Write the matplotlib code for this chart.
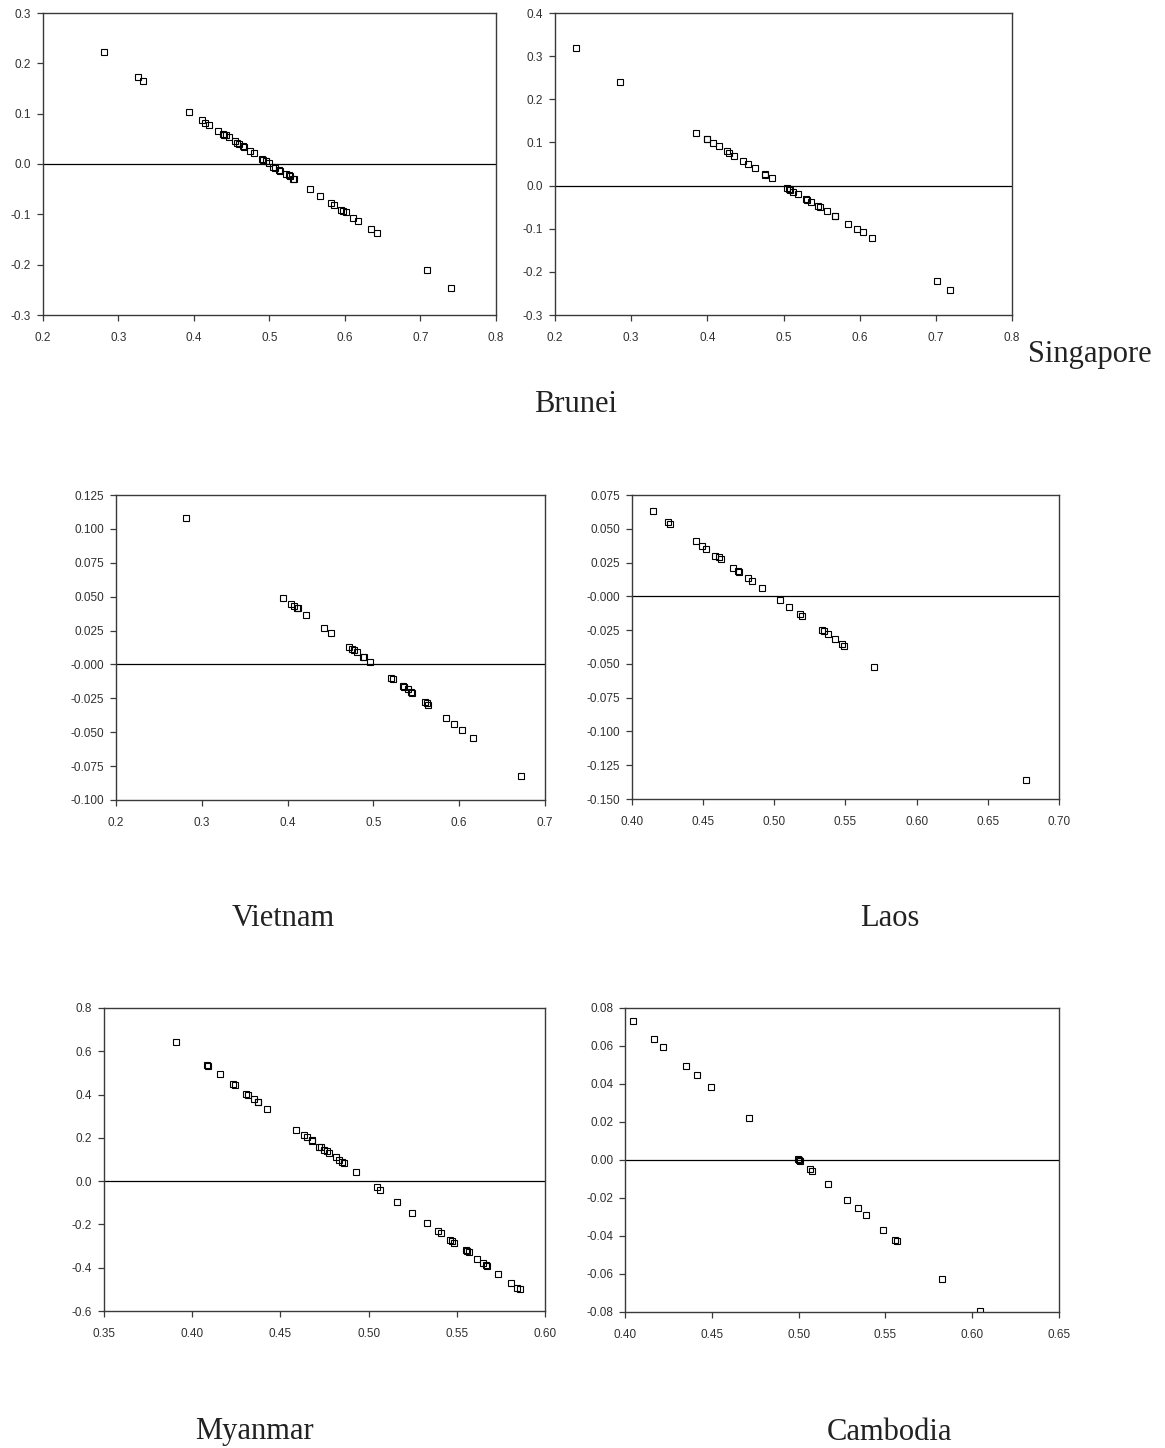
import numpy as np
import matplotlib
matplotlib.use('Agg')
import matplotlib.pyplot as plt

plt.rcParams['font.family'] = 'Liberation Sans'
plt.rcParams['axes.unicode_minus'] = False

#%% data
brunei_x = [0.281, 0.326, 0.333, 0.394, 0.410, 0.415, 0.420, 0.432, 0.438, 0.440, 0.442, 0.446,
            0.454, 0.457, 0.460, 0.465, 0.466, 0.474, 0.479, 0.490, 0.492, 0.495, 0.500, 0.505,
            0.507, 0.512, 0.514, 0.522, 0.526, 0.527, 0.531, 0.533, 0.553, 0.567, 0.582, 0.586,
            0.595, 0.598, 0.601, 0.611, 0.617, 0.634, 0.642, 0.709, 0.740]
brunei_y = [0.222, 0.173, 0.165, 0.103, 0.087, 0.081, 0.077, 0.065, 0.060, 0.058, 0.058, 0.054,
            0.045, 0.042, 0.039, 0.035, 0.034, 0.025, 0.021, 0.009, 0.007, 0.005, 0.001, -0.005,
            -0.007, -0.011, -0.013, -0.019, -0.022, -0.024, -0.029, -0.030, -0.050, -0.064, -0.077, -0.081,
            -0.091, -0.094, -0.096, -0.107, -0.113, -0.130, -0.137, -0.210, -0.246]

singapore_x = [0.228, 0.285, 0.385, 0.400, 0.400, 0.408, 0.415, 0.426, 0.429, 0.435, 0.447, 0.453,
               0.462, 0.476, 0.476, 0.485, 0.505, 0.507, 0.509, 0.513, 0.519, 0.529, 0.531, 0.536,
               0.545, 0.548, 0.557, 0.567, 0.567, 0.585, 0.597, 0.604, 0.616, 0.701, 0.718]
singapore_y = [0.319, 0.240, 0.123, 0.108, 0.107, 0.098, 0.091, 0.079, 0.076, 0.069, 0.057, 0.051,
               0.041, 0.026, 0.024, 0.017, -0.006, -0.008, -0.011, -0.014, -0.020, -0.030, -0.033, -0.037,
               -0.047, -0.050, -0.059, -0.070, -0.071, -0.089, -0.100, -0.107, -0.121, -0.222, -0.243]

vietnam_x = [0.2815, 0.395, 0.404, 0.408, 0.411, 0.412, 0.421, 0.442, 0.450, 0.472, 0.475, 0.477,
             0.481, 0.488, 0.489, 0.496, 0.521, 0.523, 0.534, 0.536, 0.540, 0.544, 0.545, 0.560,
             0.562, 0.564, 0.585, 0.594, 0.603, 0.616, 0.672]
vietnam_y = [0.1078, 0.049, 0.0443, 0.0428, 0.0416, 0.0413, 0.0365, 0.0266, 0.0232, 0.0126, 0.0116, 0.011,
             0.0089, 0.0058, 0.0052, 0.002, -0.0103, -0.0105, -0.0159, -0.0166, -0.0181, -0.0206, -0.0208, -0.028,
             -0.0287, -0.030, -0.0398, -0.044, -0.0484, -0.0545, -0.0825]

laos_x = [0.4148, 0.4255, 0.4270, 0.4448, 0.4490, 0.4518, 0.4586, 0.4614, 0.4626, 0.4708, 0.4748,
          0.4755, 0.4816, 0.4841, 0.4914, 0.5038, 0.5104, 0.5179, 0.5193, 0.5338, 0.5352, 0.5380,
          0.5425, 0.5477, 0.5488, 0.5699, 0.6766]
laos_y = [0.0629, 0.0548, 0.0538, 0.0406, 0.0372, 0.0352, 0.0302, 0.0288, 0.0276, 0.0211, 0.0184,
          0.0179, 0.0132, 0.0115, 0.0063, -0.0030, -0.0077, -0.0134, -0.0144, -0.0250, -0.0260, -0.0282,
          -0.0315, -0.0354, -0.0364, -0.0522, -0.1359]

myanmar_x = [0.3908, 0.4086, 0.4088, 0.4158, 0.4231, 0.4241, 0.4307, 0.4318, 0.4350, 0.4371, 0.4373,
             0.4426, 0.4590, 0.4634, 0.4653, 0.4677, 0.4679, 0.4719, 0.4732, 0.4747, 0.4764, 0.4777,
             0.4813, 0.4830, 0.4847, 0.4859, 0.4930, 0.5049, 0.5065, 0.5163, 0.5248, 0.5331, 0.5393,
             0.5408, 0.5461, 0.5475, 0.5486, 0.5550, 0.5558, 0.5569, 0.5616, 0.5647, 0.5665, 0.5669,
             0.5735, 0.5807, 0.5843, 0.5856]
myanmar_y = [0.642, 0.535, 0.534, 0.494, 0.447, 0.443, 0.404, 0.398, 0.378, 0.366, 0.364,
             0.335, 0.238, 0.213, 0.202, 0.188, 0.187, 0.160, 0.156, 0.143, 0.137, 0.128,
             0.110, 0.100, 0.088, 0.082, 0.040, -0.029, -0.039, -0.096, -0.145, -0.193, -0.230,
             -0.238, -0.270, -0.276, -0.284, -0.319, -0.324, -0.329, -0.358, -0.376, -0.389, -0.392,
             -0.429, -0.472, -0.494, -0.500]

cambodia_x = [0.4044, 0.4169, 0.4221, 0.4350, 0.4415, 0.4498, 0.4713, 0.4999, 0.5003, 0.5007, 0.5067,
              0.5076, 0.5168, 0.5280, 0.5341, 0.5386, 0.5489, 0.5558, 0.5566, 0.5826, 0.6043]
cambodia_y = [0.073, 0.0635, 0.0595, 0.0495, 0.0446, 0.0382, 0.0219, 0.0004, 0.0, -0.0004, -0.0049,
              -0.0056, -0.0125, -0.0211, -0.0254, -0.0289, -0.0368, -0.0421, -0.0426, -0.0626, -0.0796]

#%% ticks
xt_a = [0.2, 0.3, 0.4, 0.5, 0.6, 0.7, 0.8]
yt_brunei = [-0.3, -0.2, -0.1, 0.0, 0.1, 0.2, 0.3]
yt_singapore = [-0.3, -0.2, -0.1, 0.0, 0.1, 0.2, 0.3, 0.4]
xt_vietnam = [0.2, 0.3, 0.4, 0.5, 0.6, 0.7]
yt_vietnam = [-0.100, -0.075, -0.050, -0.025, 0.0, 0.025, 0.050, 0.075, 0.100, 0.125]
yl_vietnam = ['-0.100', '-0.075', '-0.050', '-0.025', '-0.000', '0.025', '0.050', '0.075', '0.100', '0.125']
xt_laos = [0.40, 0.45, 0.50, 0.55, 0.60, 0.65, 0.70]
yt_laos = [-0.150, -0.125, -0.100, -0.075, -0.050, -0.025, 0.0, 0.025, 0.050, 0.075]
yl_laos = ['-0.150', '-0.125', '-0.100', '-0.075', '-0.050', '-0.025', '-0.000', '0.025', '0.050', '0.075']
xt_myanmar = [0.35, 0.40, 0.45, 0.50, 0.55, 0.60]
yt_myanmar = [-0.6, -0.4, -0.2, 0.0, 0.2, 0.4, 0.6, 0.8]
xt_cambodia = [0.40, 0.45, 0.50, 0.55, 0.60, 0.65]
yt_cambodia = [-0.08, -0.06, -0.04, -0.02, 0.00, 0.02, 0.04, 0.06, 0.08]

W, H = 1165, 1448
fig = plt.figure(figsize=(W/100, H/100), dpi=100)

def make_ax(l, r, t, b):
    return fig.add_axes([l/W, 1-b/H, (r-l)/W, (b-t)/H])

def panel(ax, x, y, xt, yt, xfmt, yfmt, ylabels=None):
    ax.plot(x, y, ls='none', marker='s', ms=5, mfc='none', mec='black', mew=0.8)
    ax.axhline(0, color='black', lw=0.9)
    ax.set_xlim(xt[0], xt[-1])
    ax.set_ylim(yt[0], yt[-1])
    ax.set_xticks(xt)
    ax.set_xticklabels([xfmt % v for v in xt])
    ax.set_yticks(yt)
    if ylabels is None:
        ylabels = [yfmt % v for v in yt]
    ax.set_yticklabels(ylabels)
    for s in ax.spines.values():
        s.set_color('#3a3a3a')
        s.set_linewidth(1.0)
    ax.tick_params(direction='out', length=4.5, width=0.9, color='#3a3a3a',
                   labelsize=8.5, labelcolor='#303030')
    ax.tick_params(axis='x', pad=8)
    ax.tick_params(axis='y', pad=4)

ax1 = make_ax(43, 496, 13, 315)
panel(ax1, brunei_x, brunei_y, xt_a, yt_brunei, '%.1f', '%.1f')
ax2 = make_ax(555, 1012, 13, 315)
panel(ax2, singapore_x, singapore_y, xt_a, yt_singapore, '%.1f', '%.1f')
ax3 = make_ax(116, 545, 495, 800)
panel(ax3, vietnam_x, vietnam_y, xt_vietnam, yt_vietnam, '%.1f', '%.3f', yl_vietnam)
ax4 = make_ax(632, 1059, 495, 799)
panel(ax4, laos_x, laos_y, xt_laos, yt_laos, '%.2f', '%.3f', yl_laos)
ax5 = make_ax(104, 545, 1008, 1311)
panel(ax5, myanmar_x, myanmar_y, xt_myanmar, yt_myanmar, '%.2f', '%.1f')
ax6 = make_ax(625, 1059, 1008, 1312)
panel(ax6, cambodia_x, cambodia_y, xt_cambodia, yt_cambodia, '%.2f', '%.2f')

# country names
tf = dict(family='Liberation Serif', fontsize=22, color='#222222')
fig.text(1028/W, 1-362/H, 'Singapore', ha='left', va='baseline', **tf)
fig.text(576/W, 1-405/H, 'Brunei', ha='center', va='center', **tf)
fig.text(283/W, 1-918/H, 'Vietnam', ha='center', va='center', **tf)
fig.text(890/W, 1-918/H, 'Laos', ha='center', va='center', **tf)
fig.text(254/W, 1-1432/H, 'Myanmar', ha='center', va='center', **tf)
fig.text(890/W, 1-1432/H, 'Cambodia', ha='center', va='center', **tf)

fig.savefig('out.png', dpi=100)
